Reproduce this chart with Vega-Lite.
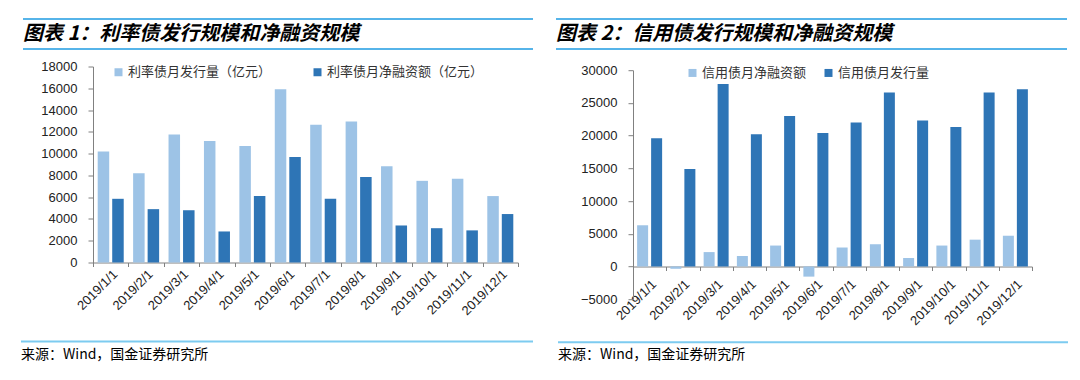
{
  "$schema": "https://vega.github.io/schema/vega-lite/v6.json",
  "padding": {"left": 20, "top": 18, "right": 0, "bottom": 0},
  "background": "white",
  "config": {
    "view": {"stroke": null},
    "font": "Liberation Sans",
    "axis": {"labelFont": "Liberation Sans", "labelFontSize": 13, "labelColor": "#333333", "domainColor": "#808080", "tickColor": "#808080", "grid": false, "title": null},
    "legend": {"labelFont": "Noto Sans CJK SC", "labelFontSize": 13, "labelColor": "#333333"}
  },
  "spacing": 21,
  "resolve": {"scale": {"color": "independent", "xOffset": "independent", "x": "independent", "y": "independent"}, "legend": {"color": "independent"}},
  "hconcat": [
    {
      "spacing": 10.5,
      "resolve": {"scale": {"color": "independent", "xOffset": "independent", "x": "independent", "y": "independent"}, "legend": {"color": "independent"}},
      "vconcat": [
        {
          "width": 440, "height": 30,
          "layer": [
            {"data": {"values": [{"edge": "top"}, {"edge": "bottom"}]},
             "mark": {"type": "rule", "color": "#56B4E9", "strokeWidth": 2},
             "encoding": {
               "y": {"field": "edge", "type": "nominal", "scale": {"type": "point", "padding": 0, "domain": ["top", "bottom"]}, "axis": null},
               "x": {"datum": 0, "type": "quantitative", "scale": {"domain": [0, 1], "range": [-70, 440]}, "axis": null},
               "x2": {"datum": 1}}},
            {"data": {"values": [{"title": "图表 1：利率债发行规模和净融资规模"}]},
             "mark": {"type": "text", "align": "left", "baseline": "middle", "font": "Noto Sans CJK SC", "fontSize": 20, "fontWeight": "bold", "fontStyle": "italic", "color": "#000000"},
             "encoding": {"text": {"field": "title"}, "x": {"datum": 0, "type": "quantitative"}}}
          ]
        },
        {
          "spacing": 22,
          "resolve": {"scale": {"color": "independent", "xOffset": "independent", "x": "independent", "y": "independent"}, "legend": {"color": "independent"}},
          "vconcat": [
            {
              "width": 425, "height": 196,
              "data": {"values": [
                {"month": "2019/1/1", "series": "利率债月发行量（亿元）", "value": 10200},
                {"month": "2019/1/1", "series": "利率债月净融资额（亿元）", "value": 5850},
                {"month": "2019/2/1", "series": "利率债月发行量（亿元）", "value": 8200},
                {"month": "2019/2/1", "series": "利率债月净融资额（亿元）", "value": 4900},
                {"month": "2019/3/1", "series": "利率债月发行量（亿元）", "value": 11750},
                {"month": "2019/3/1", "series": "利率债月净融资额（亿元）", "value": 4800},
                {"month": "2019/4/1", "series": "利率债月发行量（亿元）", "value": 11150},
                {"month": "2019/4/1", "series": "利率债月净融资额（亿元）", "value": 2850},
                {"month": "2019/5/1", "series": "利率债月发行量（亿元）", "value": 10700},
                {"month": "2019/5/1", "series": "利率债月净融资额（亿元）", "value": 6100},
                {"month": "2019/6/1", "series": "利率债月发行量（亿元）", "value": 15900},
                {"month": "2019/6/1", "series": "利率债月净融资额（亿元）", "value": 9700},
                {"month": "2019/7/1", "series": "利率债月发行量（亿元）", "value": 12650},
                {"month": "2019/7/1", "series": "利率债月净融资额（亿元）", "value": 5850},
                {"month": "2019/8/1", "series": "利率债月发行量（亿元）", "value": 12950},
                {"month": "2019/8/1", "series": "利率债月净融资额（亿元）", "value": 7850},
                {"month": "2019/9/1", "series": "利率债月发行量（亿元）", "value": 8850},
                {"month": "2019/9/1", "series": "利率债月净融资额（亿元）", "value": 3400},
                {"month": "2019/10/1", "series": "利率债月发行量（亿元）", "value": 7500},
                {"month": "2019/10/1", "series": "利率债月净融资额（亿元）", "value": 3150},
                {"month": "2019/11/1", "series": "利率债月发行量（亿元）", "value": 7700},
                {"month": "2019/11/1", "series": "利率债月净融资额（亿元）", "value": 2950},
                {"month": "2019/12/1", "series": "利率债月发行量（亿元）", "value": 6100},
                {"month": "2019/12/1", "series": "利率债月净融资额（亿元）", "value": 4450}
              ]},
              "mark": {"type": "bar"},
              "encoding": {
                "x": {"field": "month", "type": "ordinal", "sort": null, "scale": {"paddingInner": 0, "paddingOuter": 0},
                      "axis": {"labelAngle": -45, "tickBand": "extent", "tickSize": 4, "labelPadding": 1, "labelOverlap": false, "labelColor": "#222222"}},
                "xOffset": {"field": "series", "type": "nominal", "sort": ["利率债月发行量（亿元）", "利率债月净融资额（亿元）"], "scale": {"domain": ["利率债月发行量（亿元）", "利率债月净融资额（亿元）"], "paddingInner": 0.207, "paddingOuter": 0.324}},
                "y": {"field": "value", "type": "quantitative", "scale": {"domain": [0, 18000], "nice": false},
                      "axis": {"values": [0, 2000, 4000, 6000, 8000, 10000, 12000, 14000, 16000, 18000], "minExtent": 70, "tickSize": 5, "labelPadding": 11, "format": "d", "labelColor": "#222222"}},
                "color": {"field": "series", "type": "nominal",
                          "scale": {"domain": ["利率债月发行量（亿元）", "利率债月净融资额（亿元）"], "range": ["#9DC3E6", "#2E75B6"]},
                          "legend": {"orient": "none", "legendX": 19, "legendY": -1, "direction": "horizontal", "title": null, "symbolType": "square", "symbolSize": 64, "symbolStrokeWidth": 0, "columnPadding": 39, "labelOffset": 3, "padding": 0}}
              }
            },
            {
              "width": 440, "height": 26,
              "layer": [
                {"data": {"values": [{"edge": "top"}]},
                 "mark": {"type": "rule", "color": "#7DCBF0", "strokeWidth": 2},
                 "encoding": {
                   "y": {"field": "edge", "type": "nominal", "scale": {"type": "point", "padding": 0, "domain": ["top", "bottom"]}, "axis": null},
                   "x": {"datum": 0, "type": "quantitative", "scale": {"domain": [0, 1], "range": [-72, 440]}, "axis": null},
                   "x2": {"datum": 1}}},
                {"data": {"values": [{"note": "来源：Wind，国金证券研究所"}]},
                 "mark": {"type": "text", "align": "left", "baseline": "middle", "font": "Noto Sans CJK SC", "fontSize": 14, "color": "#000000"},
                 "encoding": {"text": {"field": "note"}, "x": {"datum": 0, "type": "quantitative"}}}
              ]
            }
          ]
        }
      ]
    },
    {
      "spacing": 14.2,
      "resolve": {"scale": {"color": "independent", "xOffset": "independent", "x": "independent", "y": "independent"}, "legend": {"color": "independent"}},
      "vconcat": [
        {
          "width": 434, "height": 30,
          "layer": [
            {"data": {"values": [{"edge": "top"}, {"edge": "bottom"}]},
             "mark": {"type": "rule", "color": "#56B4E9", "strokeWidth": 2},
             "encoding": {
               "y": {"field": "edge", "type": "nominal", "scale": {"type": "point", "padding": 0, "domain": ["top", "bottom"]}, "axis": null},
               "x": {"datum": 0, "type": "quantitative", "scale": {"domain": [0, 1], "range": [-77, 434]}, "axis": null},
               "x2": {"datum": 1}}},
            {"data": {"values": [{"title": "图表 2：信用债发行规模和净融资规模"}]},
             "mark": {"type": "text", "align": "left", "baseline": "middle", "font": "Noto Sans CJK SC", "fontSize": 20, "fontWeight": "bold", "fontStyle": "italic", "color": "#000000"},
             "encoding": {"text": {"field": "title"}, "x": {"datum": 0, "type": "quantitative"}}}
          ]
        },
        {
          "spacing": 13,
          "resolve": {"scale": {"color": "independent", "xOffset": "independent", "x": "independent", "y": "independent"}, "legend": {"color": "independent"}},
          "vconcat": [
            {
              "width": 399, "height": 229,
              "data": {"values": [
                {"month": "2019/1/1", "series": "信用债月净融资额", "value": 6300},
                {"month": "2019/1/1", "series": "信用债月发行量", "value": 19600},
                {"month": "2019/2/1", "series": "信用债月净融资额", "value": -350},
                {"month": "2019/2/1", "series": "信用债月发行量", "value": 14900},
                {"month": "2019/3/1", "series": "信用债月净融资额", "value": 2200},
                {"month": "2019/3/1", "series": "信用债月发行量", "value": 27900},
                {"month": "2019/4/1", "series": "信用债月净融资额", "value": 1600},
                {"month": "2019/4/1", "series": "信用债月发行量", "value": 20200},
                {"month": "2019/5/1", "series": "信用债月净融资额", "value": 3200},
                {"month": "2019/5/1", "series": "信用债月发行量", "value": 23000},
                {"month": "2019/6/1", "series": "信用债月净融资额", "value": -1550},
                {"month": "2019/6/1", "series": "信用债月发行量", "value": 20400},
                {"month": "2019/7/1", "series": "信用债月净融资额", "value": 2900},
                {"month": "2019/7/1", "series": "信用债月发行量", "value": 22000},
                {"month": "2019/8/1", "series": "信用债月净融资额", "value": 3400},
                {"month": "2019/8/1", "series": "信用债月发行量", "value": 26600},
                {"month": "2019/9/1", "series": "信用债月净融资额", "value": 1300},
                {"month": "2019/9/1", "series": "信用债月发行量", "value": 22300},
                {"month": "2019/10/1", "series": "信用债月净融资额", "value": 3200},
                {"month": "2019/10/1", "series": "信用债月发行量", "value": 21300},
                {"month": "2019/11/1", "series": "信用债月净融资额", "value": 4100},
                {"month": "2019/11/1", "series": "信用债月发行量", "value": 26600},
                {"month": "2019/12/1", "series": "信用债月净融资额", "value": 4700},
                {"month": "2019/12/1", "series": "信用债月发行量", "value": 27100}
              ]},
              "mark": {"type": "bar"},
              "encoding": {
                "x": {"field": "month", "type": "ordinal", "sort": null, "scale": {"paddingInner": 0, "paddingOuter": 0},
                      "axis": {"labelAngle": -45, "tickBand": "extent", "tickSize": 4, "labelPadding": 7, "offset": -32.7, "labelOverlap": false, "labelColor": "#222222"}},
                "xOffset": {"field": "series", "type": "nominal", "sort": ["信用债月净融资额", "信用债月发行量"], "scale": {"domain": ["信用债月净融资额", "信用债月发行量"], "paddingInner": 0.214, "paddingOuter": 0.295}},
                "y": {"field": "value", "type": "quantitative", "scale": {"domain": [-5000, 30000], "nice": false, "zero": false},
                      "axis": {"values": [-5000, 0, 5000, 10000, 15000, 20000, 25000, 30000], "minExtent": 77, "tickSize": 5, "labelPadding": 11, "format": "d", "labelColor": "#222222"}},
                "color": {"field": "series", "type": "nominal",
                          "scale": {"domain": ["信用债月净融资额", "信用债月发行量"], "range": ["#9DC3E6", "#2E75B6"]},
                          "legend": {"orient": "none", "legendX": 53, "legendY": -4, "direction": "horizontal", "title": null, "symbolType": "square", "symbolSize": 64, "symbolStrokeWidth": 0, "columnPadding": 15, "labelOffset": 3, "padding": 0}}
              }
            },
            {
              "width": 435, "height": 26,
              "layer": [
                {"data": {"values": [{"edge": "top"}]},
                 "mark": {"type": "rule", "color": "#7DCBF0", "strokeWidth": 2},
                 "encoding": {
                   "y": {"field": "edge", "type": "nominal", "scale": {"type": "point", "padding": 0, "domain": ["top", "bottom"]}, "axis": null},
                   "x": {"datum": 0, "type": "quantitative", "scale": {"domain": [0, 1], "range": [-75, 435]}, "axis": null},
                   "x2": {"datum": 1}}},
                {"data": {"values": [{"note": "来源：Wind，国金证券研究所"}]},
                 "mark": {"type": "text", "align": "left", "baseline": "middle", "font": "Noto Sans CJK SC", "fontSize": 14, "color": "#000000"},
                 "encoding": {"text": {"field": "note"}, "x": {"datum": 0, "type": "quantitative"}}}
              ]
            }
          ]
        }
      ]
    }
  ]
}
